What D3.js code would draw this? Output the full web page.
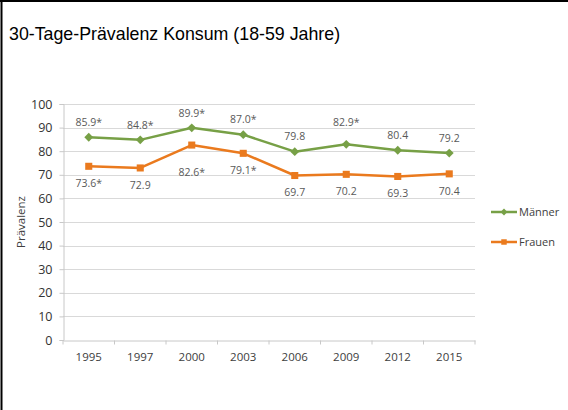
<!DOCTYPE html>
<html>
<head>
<meta charset="utf-8">
<script src="https://cdn.jsdelivr.net/npm/d3@7"></script>
<style>
  html, body { margin: 0; padding: 0; background: #fff; }
  svg { display: block; }
</style>
</head>
<body>
<div id="chart"></div>
<script>
'use strict';

// ─── Data ──────────────────────────────────────────────────────────────────
const years       = ['1995', '1997', '2000', '2003', '2006', '2009', '2012', '2015'];
const maenner     = [85.9, 84.8, 89.9, 87.0, 79.8, 82.9, 80.4, 79.2];
const frauen      = [73.6, 72.9, 82.6, 79.1, 69.7, 70.2, 69.3, 70.4];
const maennerText = ['85.9*', '84.8*', '89.9*', '87.0*', '79.8', '82.9*', '80.4', '79.2'];
const frauenText  = ['73.6*', '72.9', '82.6*', '79.1*', '69.7', '70.2', '69.3', '70.4'];
const yTicks      = [0, 10, 20, 30, 40, 50, 60, 70, 80, 90, 100];

const W = 568, H = 410;
const plot = { left: 63, right: 475, top: 104, bottom: 340 };

const svg = d3.select('#chart').append('svg')
    .attr('width', W).attr('height', H);

svg.append('rect').attr('width', W).attr('height', H).attr('fill', '#fff');

// frame (top + left visible)
svg.append('line').attr('x1', 0).attr('x2', W).attr('y1', 1).attr('y2', 1)
    .attr('stroke', '#000').attr('stroke-width', 2);
svg.append('line').attr('x1', 1.5).attr('x2', 1.5).attr('y1', 0).attr('y2', H)
    .attr('stroke', '#000').attr('stroke-width', 2);

svg.append('text')
    .attr('x', 9).attr('y', 40)
    .attr('font-family', 'Liberation Sans, Arial, sans-serif')
    .attr('font-size', 17.8)
    .attr('fill', '#000')
    .text('30-Tage-Prävalenz Konsum (18-59 Jahre)');

// ─── Scales ────────────────────────────────────────────────────────────────
const x = d3.scaleBand().domain(years).range([plot.left, plot.right]);
const y = d3.scaleLinear().domain([0, 100]).range([plot.bottom, plot.top]);
const cx = function (d) { return x(d) + x.bandwidth() / 2; };

const FONT = 'Open Sans, DejaVu Sans, sans-serif';

// gridlines
svg.append('g').selectAll('line')
    .data(yTicks.filter(function (t) { return t > 0; }))
    .enter().append('line')
    .attr('x1', plot.left).attr('x2', plot.right)
    .attr('y1', function (d) { return Math.round(y(d)) + 0.5; })
    .attr('y2', function (d) { return Math.round(y(d)) + 0.5; })
    .attr('stroke', '#d9d9d9').attr('stroke-width', 1.2);

// y axis
const yAxis = svg.append('g')
    .attr('transform', 'translate(' + (plot.left + 0.5) + ',0)')
    .call(d3.axisLeft(y).tickValues(yTicks).tickSize(4).tickPadding(7));
yAxis.select('.domain').attr('stroke', '#c8c8c8');
yAxis.selectAll('.tick line').attr('stroke', '#c8c8c8');
yAxis.selectAll('text').attr('font-family', FONT).attr('font-size', 12.5).attr('fill', '#333');

// x axis
const xAxis = svg.append('g')
    .attr('transform', 'translate(0,' + (Math.round(y(0)) + 0.5) + ')')
    .call(d3.axisBottom(x).tickSize(0).tickPadding(12));
xAxis.select('.domain').attr('stroke', '#c8c8c8');
xAxis.selectAll('text').attr('font-family', FONT).attr('font-size', 11.5).attr('fill', '#404040');
// category boundary ticks
xAxis.selectAll('.bound')
    .data(years.concat(['end']))
    .enter().append('line')
    .attr('class', 'bound')
    .attr('x1', function (d, i) { return plot.left + i * x.bandwidth(); })
    .attr('x2', function (d, i) { return plot.left + i * x.bandwidth(); })
    .attr('y1', 0).attr('y2', 4)
    .attr('stroke', '#c8c8c8');

// y title
svg.append('text')
    .attr('transform', 'translate(25,' + ((plot.top + plot.bottom) / 2) + ') rotate(-90)')
    .attr('text-anchor', 'middle')
    .attr('font-family', FONT).attr('font-size', 11.5).attr('fill', '#404040')
    .text('Prävalenz');

// ─── Series ────────────────────────────────────────────────────────────────
const series = [
    { name: 'Männer', values: maenner, labels: maennerText, color: '#77a046', marker: 'diamond', dy: -15 },
    { name: 'Frauen', values: frauen,  labels: frauenText,  color: '#ea7a1e', marker: 'square',  dy: 17 }
];

const line = d3.line()
    .x(function (d, i) { return cx(years[i]); })
    .y(function (d) { return y(d); });

series.forEach(function (s) {
    svg.append('path')
        .datum(s.values)
        .attr('d', line)
        .attr('fill', 'none')
        .attr('stroke', s.color)
        .attr('stroke-width', 2.5)
        .attr('stroke-linejoin', 'round');

    const sym = d3.symbol()
        .type(s.marker === 'diamond' ? d3.symbolDiamond2 : d3.symbolSquare)
        .size(s.marker === 'diamond' ? 50 : 50);

    svg.append('g').selectAll('path')
        .data(s.values)
        .enter().append('path')
        .attr('d', sym)
        .attr('transform', function (d, i) { return 'translate(' + cx(years[i]) + ',' + y(d) + ')'; })
        .attr('fill', s.color);

    svg.append('g').selectAll('text')
        .data(s.values)
        .enter().append('text')
        .attr('x', function (d, i) { return cx(years[i]); })
        .attr('y', function (d, i) {
            let dy = s.dy;
            if (s.name === 'Frauen' && years[i] === '2000') dy = 27;
            if (s.name === 'Männer' && years[i] === '2009') dy = -22;
            return y(d) + dy;
        })
        .attr('dy', '0.35em')
        .attr('text-anchor', 'middle')
        .attr('font-family', FONT).attr('font-size', 10.5).attr('fill', '#595959')
        .text(function (d, i) { return s.labels[i]; });
});

// ─── Legend ────────────────────────────────────────────────────────────────
const legend = svg.append('g').selectAll('g')
    .data(series)
    .enter().append('g')
    .attr('transform', function (d, i) { return 'translate(491,' + (212 + i * 30) + ')'; });

legend.append('line')
    .attr('x1', 0).attr('x2', 26)
    .attr('stroke', function (d) { return d.color; })
    .attr('stroke-width', 2.5);
legend.append('path')
    .attr('d', function (d) {
        return d3.symbol().type(d.marker === 'diamond' ? d3.symbolDiamond2 : d3.symbolSquare)
            .size(30)();
    })
    .attr('transform', 'translate(13,0)')
    .attr('fill', function (d) { return d.color; });
legend.append('text')
    .attr('x', 28).attr('dy', '0.35em')
    .attr('font-family', FONT).attr('font-size', 11).attr('fill', '#404040')
    .text(function (d) { return d.name; });
</script>
</body>
</html>
